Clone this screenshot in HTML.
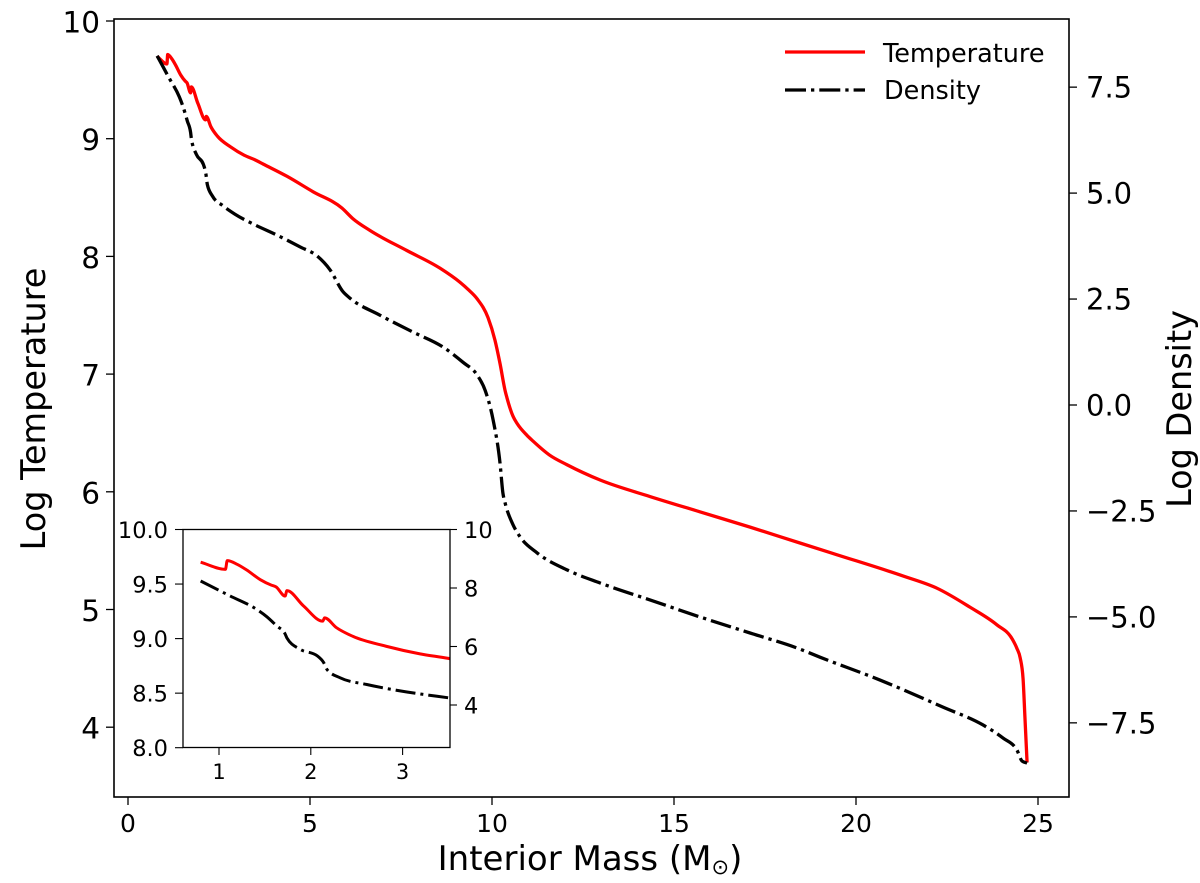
<!DOCTYPE html>
<html lang="en">
<head>
<meta charset="utf-8">
<title>Log Temperature and Log Density vs Interior Mass</title>
<style>
html,body{margin:0;padding:0;background:#fff;width:1200px;height:883px;overflow:hidden}
svg{display:block}
text{font-family:"DejaVu Sans","Liberation Sans",sans-serif;fill:#000}
</style>
</head>
<body>
<svg id="chart" xmlns="http://www.w3.org/2000/svg" width="1200" height="883" viewBox="0 0 1200 883">
  <defs>
    <clipPath id="inset-clip"><rect x="183" y="529.5" width="267" height="218"></rect></clipPath>
  </defs>
  <rect x="0" y="0" width="1200" height="883" fill="#fff"></rect>
  <g id="main-lines"></g>
  <rect x="114" y="19" width="955" height="778" fill="none" stroke="#000" stroke-width="1.6"></rect>
  <g id="main-ticks"></g>
  <text x="590" y="870" text-anchor="middle" font-size="34">Interior Mass (M<tspan font-size="21" dy="4">⊙</tspan><tspan dy="-4">)</tspan></text>
  <text transform="translate(45,409) rotate(-90)" text-anchor="middle" font-size="33.5">Log Temperature</text>
  <text transform="translate(1191,409) rotate(-90)" text-anchor="middle" font-size="33.5">Log Density</text>
  <g>
    <line x1="785" y1="52" x2="865" y2="52" stroke="#f00" stroke-width="3.3"></line>
    <text x="883" y="62" font-size="25.5">Temperature</text>
    <line x1="785" y1="90" x2="865" y2="90" stroke="#000" stroke-width="3.3" stroke-dasharray="21,5,3.3,5"></line>
    <text x="884" y="99" font-size="25.5">Density</text>
  </g>
  <rect x="183" y="529.5" width="267" height="218" fill="#fff"></rect>
  <g id="inset-lines" clip-path="url(#inset-clip)"></g>
  <rect x="183" y="529.5" width="267" height="218" fill="none" stroke="#000" stroke-width="1.3"></rect>
  <g id="inset-ticks"></g>
</svg>
<script>
const temperatureMass = [0.8,1.07,1.09,1.2,1.3,1.45,1.57,1.62,1.72,1.74,1.92,2.13,2.15,2.28,2.46,2.82,3.19,3.49,3.71,4.37,5.08,5.88,6.18,6.65,7.66,8.57,9.12,9.34,9.59,9.89,10.08,10.22,10.36,10.41,10.58,10.69,10.96,11.13,11.59,12.06,12.97,14.34,15.71,17.09,18.46,19.48,21.29,22.23,23.13,23.87,24.29,24.42,24.51,24.59,24.64,24.7];
const temperatureValues = [9.7,9.635,9.715,9.68,9.63,9.54,9.49,9.475,9.39,9.44,9.3,9.16,9.19,9.1,9.02,8.93,8.86,8.82,8.785,8.68,8.55,8.41,8.32,8.22,8.05,7.9,7.78,7.72,7.64,7.48,7.29,7.09,6.86,6.8,6.64,6.58,6.48,6.43,6.31,6.23,6.1,5.96,5.83,5.7,5.565,5.465,5.285,5.18,5.02,4.87,4.75,4.67,4.59,4.41,4.09,3.7];
const densityMass = [0.8,1.12,1.41,1.52,1.63,1.72,1.74,1.88,2.07,2.14,2.18,2.32,2.61,2.94,3.49,4.09,4.73,5.19,5.55,5.91,6.1,6.92,7.83,8.65,9.2,9.59,9.81,10.03,10.22,10.3,10.36,10.58,10.77,11.24,12.06,12.97,14.34,15.71,17.09,18.46,19.01,20.66,22.39,23.49,24.04,24.42,24.56,24.7];
const densityValues = [8.24,7.73,7.27,7.02,6.7,6.43,6.29,5.91,5.68,5.45,5.2,4.93,4.7,4.5,4.25,4.01,3.73,3.52,3.19,2.67,2.52,2.12,1.72,1.37,1.01,0.71,0.35,-0.35,-1.37,-2.08,-2.31,-2.83,-3.11,-3.49,-3.89,-4.2,-4.6,-5,-5.38,-5.76,-5.95,-6.49,-7.13,-7.55,-7.86,-8.14,-8.4,-8.45];

const mainXTicks = ["0","5","10","15","20","25"];
const mainLeftTicks = ["4","5","6","7","8","9","10"];
const mainRightTicks = ["−7.5","−5.0","−2.5","0.0","2.5","5.0","7.5"];
const insetXTicks = ["1","2","3"];
const insetLeftTicks = ["8.0","8.5","9.0","9.5","10.0"];
const insetRightTicks = ["4","6","8","10"];

const mainX = v => 128 + v * 36.4;
const mainYT = v => 21 + (10 - v) * 117.7;
const mainYD = v => 405 - v * 42.38;
const insetX = v => 219 + (v - 1) * 91.8;
const insetYT = v => 747.7 - (v - 8) * 109.1;
const insetYD = v => 705 - (v - 4) * 29.25;
const num = s => parseFloat(s.replace("−", "-"));
const insetMassLimit = 3.5;

const NS = "http://www.w3.org/2000/svg";
function make(tag, parent, attrs, txt) {
  const n = document.createElementNS(NS, tag);
  for (const k in attrs) n.setAttribute(k, attrs[k]);
  if (txt !== undefined) n.textContent = txt;
  parent.appendChild(n);
  return n;
}
/* Count of leading samples needed to reach the inset's right edge */
function insetCount(xs) {
  let i = 0;
  while (i < xs.length && xs[i] <= insetMassLimit) i++;
  return Math.min(i + 1, xs.length);
}
/* Monotone cubic curve through the data points: no overshoot at the sawteeth */
function curvePath(xs, ys, fx, fy) {
  const px = xs.map(fx);
  const py = ys.map(fy);
  const n = px.length;
  const h = [];
  const s = [];
  for (let i = 0; i < n - 1; i++) {
    h.push(px[i + 1] - px[i]);
    s.push((py[i + 1] - py[i]) / h[i]);
  }
  const t = [s[0]];
  for (let i = 1; i < n - 1; i++) {
    if (s[i - 1] * s[i] <= 0) { t.push(0); continue; }
    const p = (s[i - 1] * h[i] + s[i] * h[i - 1]) / (h[i - 1] + h[i]);
    t.push(Math.sign(s[i]) * Math.min(Math.abs(s[i - 1]), Math.abs(s[i]), 0.5 * Math.abs(p)) * 2);
  }
  t.push(s[n - 2]);
  let d = "M" + px[0].toFixed(2) + " " + py[0].toFixed(2);
  for (let i = 0; i < n - 1; i++) {
    const dx = h[i] / 3;
    d += "C" + (px[i] + dx).toFixed(2) + " " + (py[i] + t[i] * dx).toFixed(2) + " " +
         (px[i + 1] - dx).toFixed(2) + " " + (py[i + 1] - t[i + 1] * dx).toFixed(2) + " " +
         px[i + 1].toFixed(2) + " " + py[i + 1].toFixed(2);
  }
  return d;
}

const mainLines = document.getElementById("main-lines");
const insetLines = document.getElementById("inset-lines");
const mainTicks = document.getElementById("main-ticks");
const insetTicks = document.getElementById("inset-ticks");

const mainTemp = make("path", mainLines, {d: curvePath(temperatureMass, temperatureValues, mainX, mainYT), fill: "none", stroke: "#f00", "stroke-width": 3.3, "stroke-linejoin": "round"});


const mainDens = make("path", mainLines, {d: curvePath(densityMass, densityValues, mainX, mainYD), fill: "none", stroke: "#000", "stroke-width": 3.3, "stroke-dasharray": "21,5,3.3,5", "stroke-linejoin": "round"});



const tCount = insetCount(temperatureMass);
const dCount = insetCount(densityMass);
const insetTemp = make("path", insetLines, {d: curvePath(temperatureMass.slice(0, tCount), temperatureValues.slice(0, tCount), insetX, insetYT), fill: "none", stroke: "#f00", "stroke-width": 3, "stroke-linejoin": "round"});


const insetDens = make("path", insetLines, {d: curvePath(densityMass.slice(0, dCount), densityValues.slice(0, dCount), insetX, insetYD), fill: "none", stroke: "#000", "stroke-width": 3, "stroke-dasharray": "20,5,3,5", "stroke-linejoin": "round"});



mainXTicks.forEach(t => {
  const x = mainX(num(t));
  const mark = make("line", mainTicks, {x1: x, x2: x, y1: 797, y2: 805, stroke: "#000", "stroke-width": 1.3});
  
  
  const label = make("text", mainTicks, {x: x, y: 832, "text-anchor": "middle", "font-size": 25}, t);
  
  
});
mainLeftTicks.forEach(t => {
  const y = mainYT(num(t));
  const mark = make("line", mainTicks, {x1: 106, x2: 114, y1: y, y2: y, stroke: "#000", "stroke-width": 1.3});
  
  
  const label = make("text", mainTicks, {x: 100, y: y + 11.5, "text-anchor": "end", "font-size": 29.5}, t);
  
  
});
mainRightTicks.forEach(t => {
  const y = mainYD(num(t));
  const mark = make("line", mainTicks, {x1: 1069, x2: 1077, y1: y, y2: y, stroke: "#000", "stroke-width": 1.3});
  
  
  const label = make("text", mainTicks, {x: 1086, y: y + 10.5, "font-size": 29}, t);
  
  
});
insetXTicks.forEach(t => {
  const x = insetX(num(t));
  const mark = make("line", insetTicks, {x1: x, x2: x, y1: 747.7, y2: 755, stroke: "#000", "stroke-width": 1.1});
  
  
  const label = make("text", insetTicks, {x: x, y: 779, "text-anchor": "middle", "font-size": 21}, t);
  
  
});
insetLeftTicks.forEach(t => {
  const y = insetYT(num(t));
  const mark = make("line", insetTicks, {x1: 175, x2: 183, y1: y, y2: y, stroke: "#000", "stroke-width": 1.1});
  
  
  const label = make("text", insetTicks, {x: 168, y: y + 8.5, "text-anchor": "end", "font-size": 22.5}, t);
  
  
});
insetRightTicks.forEach(t => {
  const y = insetYD(num(t));
  const mark = make("line", insetTicks, {x1: 450, x2: 457, y1: y, y2: y, stroke: "#000", "stroke-width": 1.1});
  
  
  const label = make("text", insetTicks, {x: 464, y: y + 8.5, "font-size": 22.5}, t);
  
  
});
</script>
</body>
</html>
